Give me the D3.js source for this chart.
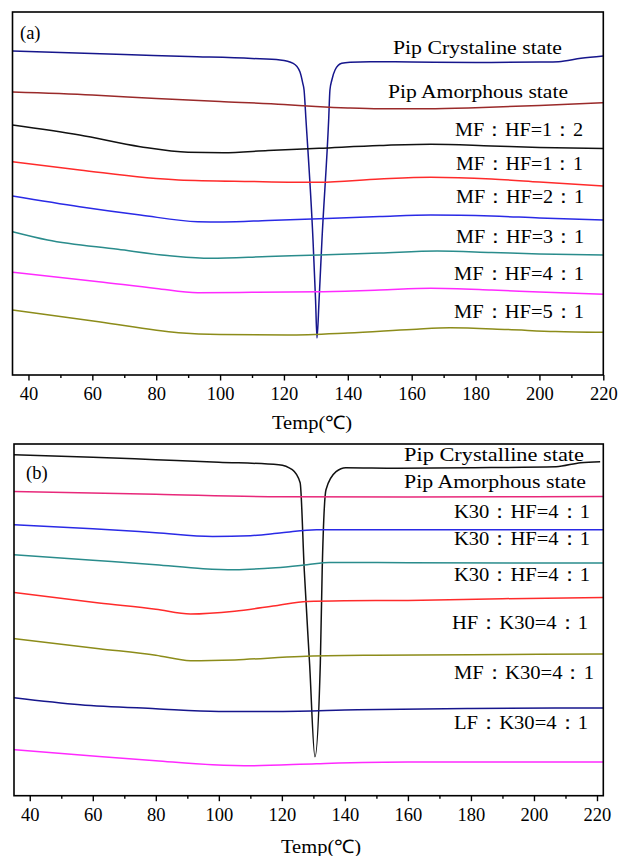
<!DOCTYPE html>
<html><head><meta charset="utf-8">
<script src="https://cdn.jsdelivr.net/npm/d3@7"></script>
<style>html,body{margin:0;padding:0;background:#fff}svg{display:block}svg text{font-family:'Liberation Serif','Times New Roman',serif}</style>
</head><body><svg id="c" width="624" height="856"></svg>
<script>
// ---------- DATA (temperature °C, heat flow in arbitrary units, exo up) ----------
const xTickValues = [40, 60, 80, 100, 120, 140, 160, 180, 200, 220];
const xMinorValues = [50, 70, 90, 110, 130, 150, 170, 190, 210];
const xTitle = "Temp(℃)";

// Panel (a)
const aCrystalline = [[35,324],[50,322.5],[70,320.5],[90,318.5],[110,316.5],[118.8,315],[122.9,311.7],[125,303.3],[125.9,291.7],[126.3,285],[126.9,255],[129.1,135],[129.9,75],[130.35,37],[131,75],[131.9,135],[134,255],[134.4,285],[135,295],[136,305],[138.1,311.7],[140.7,312.7],[147,313.3],[160,313],[180,312.5],[200,313],[206,313.3],[213,316.7],[220,319]];
const aAmorphous = [[35,283],[60,280],[80,276.5],[100,273.5],[120,270.5],[130,268.5],[140,267],[150,266.2],[165,266.3],[180,267.3],[200,269.5],[220,272.3]];
const aMF12 = [[35,250],[56,240],[75,228.3],[90,222.7],[101,222.3],[115,224.5],[131,226.7],[150,229.5],[166,230.7],[185,229],[200,227.5],[220,226.5]];
const aMF11 = [[35,213.3],[56,205],[87,195],[110,193.5],[131,192.7],[150,196],[166,197.7],[185,196],[200,193],[220,189]];
const aMF21 = [[35,179],[56,168.3],[75,160],[93,153.3],[101,153],[115,154.5],[131,156.3],[150,158.5],[166,160],[185,159],[200,157],[220,155]];
const aMF31 = [[35,143.3],[46,135],[68,125.7],[85,119],[97,116.7],[115,118.5],[131,120],[150,122],[168,124],[185,122.5],[200,121],[220,120]];
const aMF41 = [[35,102.7],[62,93.3],[80,86.5],[93,82.3],[110,82.7],[131,83.3],[150,85],[166,86.7],[185,85],[200,83],[220,80.7]];
const aMF51 = [[35,65],[62,53.3],[87,42.3],[100,40.5],[121,40],[140,42],[160,45.5],[172,47.3],[190,45.5],[205,43.5],[220,42.7]];
const aNames = ["Pip Crystaline state","Pip Amorphous state","MF：HF=1：2","MF：HF=1：1","MF：HF=2：1","MF：HF=3：1","MF：HF=4：1","MF：HF=5：1"];

// Panel (b)
const bCrystalline = [[35,341],[60,338.5],[80,336],[100,333.5],[119,331],[123.3,326],[125.8,313],[127.1,226],[128.8,132],[130.5,39],[132.2,132],[132.8,226],[134,306],[137.2,324],[140.3,328],[156.7,327.5],[180,328],[207,329],[214.8,333],[221,334]];
const bAmorphous = [[35,304.3],[80,301.5],[120,299],[160,298.8],[200,299],[222,299.3]];
const bK30a = [[35,271],[60,267],[80,263],[98,259.3],[110,260],[120,263],[131,266],[160,266],[222,266]];
const bK30b = [[35,241],[60,235.5],[80,231],[95,227],[105,226],[118,228],[128,231],[135,233.3],[160,233],[222,232.7]];
const bK30c = [[35,203.3],[62,192.7],[80,186.5],[91,181.7],[105,184.5],[118,190],[128,194.3],[140,195],[160,195.3],[190,197],[222,198.3]];
const bHFK30 = [[35,157],[62,147],[80,140.5],[91,135],[105,135.8],[126,139.3],[150,140.5],[180,141],[222,141.7]];
const bMFK30 = [[35,98],[56,91],[80,87],[100,84.3],[119,84.3],[144,86],[180,87.2],[222,87.7]];
const bLFK30 = [[35,46],[62,39.3],[80,35],[98,31],[111,30],[131,32],[160,33.7],[222,33.7]];
const bNames = ["Pip Crystalline state","Pip Amorphous state","K30：HF=4：1","K30：HF=4：1","K30：HF=4：1","HF：K30=4：1","MF：K30=4：1","LF：K30=4：1"];

// ---------- STYLE / LAYOUT ----------
const aColors = ["#16168c","#9a2a2a","#111111","#ff2b2b","#2a2ae6","#2a8c8c","#ff2aff","#8c8c1a"];
const bColors = ["#111111","#e8287a","#2a2ae6","#2a8c8c","#ff2b2b","#8c8c1a","#16168c","#ff2aff"];
const FONT = "'Liberation Serif','Times New Roman',serif";

const panels = [
  {
    id: "pa", tag: "(a)", tagPos: [20, 39],
    xDomain: [35, 220], left: 12.5, right: 603.3, top: 12, bottom: 375, yMax: 363,
    series: [aCrystalline, aAmorphous, aMF12, aMF11, aMF21, aMF31, aMF41, aMF51],
    colors: aColors, names: aNames,
    labelLayout: [[393,54,169],[388,97.5,180],[455,136,128],[456,169.5,127],[456,203,128],[456,242.5,128],[454,280,130],[454,318,130]],
    titlePos: [312, 428.5]
  },
  {
    id: "pb", tag: "(b)", tagPos: [26, 479],
    xDomain: [35, 222], left: 14, right: 603.3, top: 444, bottom: 795.7, yMax: 351.7,
    series: [bCrystalline, bAmorphous, bK30a, bK30b, bK30c, bHFK30, bMFK30, bLFK30],
    colors: bColors, names: bNames,
    labelLayout: [[404,461,180],[404,488,182],[454,518,136],[454,545,136],[454,581,136],[452,629,136],[454,679,140],[454,729,134]],
    titlePos: [321, 852.5]
  }
];

const svg = d3.select("#c");

panels.forEach(p => {
  const x = d3.scaleLinear().domain(p.xDomain).range([p.left, p.right]);
  const y = d3.scaleLinear().domain([0, p.yMax]).range([p.bottom, p.top]);
  const g = svg.append("g");

  const line = d3.line().x(d => x(d[0])).y(d => y(d[1])).curve(d3.curveMonotoneX);

  g.append("defs").append("clipPath").attr("id", "clip" + p.id)
    .append("rect").attr("x", p.left).attr("y", p.top)
    .attr("width", p.right - p.left).attr("height", p.bottom - p.top);

  const curves = g.append("g").attr("clip-path", "url(#clip" + p.id + ")");
  p.series.forEach((s, i) => {
    curves.append("path").datum(s).attr("d", line)
      .attr("fill", "none").attr("stroke", p.colors[i]).attr("stroke-width", 1.5)
      .attr("stroke-linejoin", "round");
  });

  // frame
  g.append("rect").attr("x", p.left).attr("y", p.top)
    .attr("width", p.right - p.left).attr("height", p.bottom - p.top)
    .attr("fill", "none").attr("stroke", "#000").attr("stroke-width", 1.6);

  // minor ticks
  const minorAxis = d3.axisBottom(x).tickValues(xMinorValues).tickSize(3).tickFormat("");
  g.append("g").attr("transform", `translate(0,${p.bottom})`).call(minorAxis)
    .call(a => a.select(".domain").remove())
    .call(a => a.selectAll("line").attr("stroke-width", 1.4));

  // major ticks
  const axis = d3.axisBottom(x).tickValues(xTickValues).tickSize(5.5).tickFormat(d3.format("d"));
  g.append("g").attr("transform", `translate(0,${p.bottom})`).call(axis)
    .attr("font-family", null).attr("font-size", null)
    .call(a => a.select(".domain").remove())
    .call(a => a.selectAll("line").attr("stroke-width", 1.4))
    .call(a => a.selectAll("text").attr("y", 25).attr("dy", 0)
      .style("font-family", FONT).style("font-size", "18.5px").attr("fill", "#000"));

  // axis title
  g.append("text").attr("x", p.titlePos[0] - 40).attr("y", p.titlePos[1])
    .style("font-family", FONT).style("font-size", "18.5px")
    .attr("textLength", 80).attr("lengthAdjust", "spacingAndGlyphs")
    .text(xTitle);

  // panel tag
  g.append("text").attr("x", p.tagPos[0]).attr("y", p.tagPos[1])
    .style("font-family", FONT).style("font-size", "18.5px").text(p.tag);

  // curve labels
  p.names.forEach((n, i) => {
    const L = p.labelLayout[i];
    g.append("text").attr("x", L[0]).attr("y", L[1])
      .style("font-family", FONT).style("font-size", "18.5px")
      .attr("textLength", L[2]).attr("lengthAdjust", "spacingAndGlyphs")
      .text(n);
  });
});
</script>
</body></html>
